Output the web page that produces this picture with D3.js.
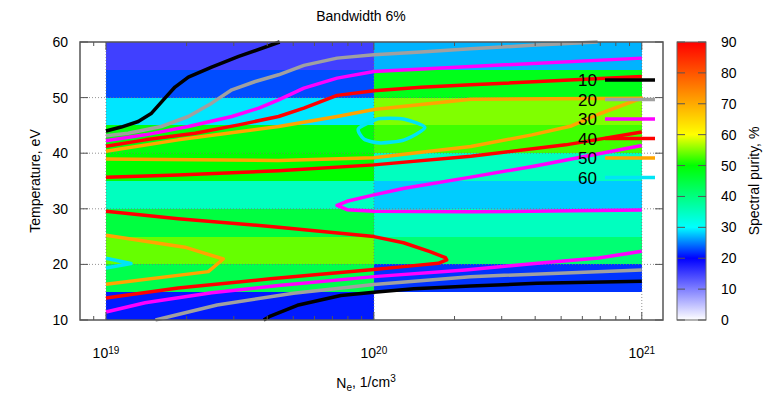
<!DOCTYPE html>
<html>
<head>
  <meta charset="utf-8">
  <title>Bandwidth 6%</title>
  <script src="https://d3js.org/d3.v7.min.js"></script>
  <style>
    html, body {
      margin: 0;
      padding: 0;
      background: #fff;
    }
    text {
      font-family: "Liberation Sans", Arial, sans-serif;
      fill: #000;
    }
    .contour {
      fill: none;
      stroke-width: 3.5;
      stroke-linejoin: round;
    }
    .grid {
      stroke: #777;
      stroke-width: 0.8;
      stroke-dasharray: 1,2;
    }
    .frame {
      fill: none;
      stroke: #555;
      stroke-width: 1.5;
    }
    .tick {
      stroke: #555;
      stroke-width: 1;
    }
  </style>
</head>
<body>
  <svg id="chart" width="768" height="394"></svg>

  <script>
    // heatmap: two density columns, temperature rows of 5 eV
    var densityEdges = [1e19, 1e20, 1e21];
    var tempEdges = [10, 15, 20, 25, 30, 35, 40, 45, 50, 55, 60];
    // purity per row, from 10-15 eV up to 55-60 eV
    var purityLow  = [21, 44, 54, 45, 35, 50, 49, 29, 23, 15];   // 1e19 .. 1e20
    var purityHigh = [0, 22, 41, 35, 28, 35, 52.5, 55, 48, 27];  // 1e20 .. 1e21

    // contour lines, points are [Ne, T]
    var c10a = [[1e19, 44.0], [1.14e19, 44.7], [1.32e19, 45.7], [1.48e19, 47.2], [1.66e19, 49.9], [1.81e19, 51.9],
                [2.03e19, 53.7], [2.48e19, 55.5], [3.13e19, 57.4], [4.45e19, 60.0]];
    var c10b = [[3.88e19, 10.0], [4.11e19, 10.7], [5.18e19, 12.65], [7.52e19, 14.4], [1e20, 15.0], [1.41e20, 15.6],
                [2.3e20, 16.1], [4.07e20, 16.6], [1e21, 16.95]];
    var c20a = [[1e19, 43.15], [1.21e19, 43.6], [1.61e19, 44.8], [2.03e19, 46.6], [2.48e19, 49.0], [2.95e19, 51.4],
                [3.61e19, 52.9], [4.41e19, 54.1], [5.48e19, 55.8], [7.29e19, 57.1], [1e20, 57.7], [1.5e20, 58.2],
                [2.3e20, 58.8], [3.89e20, 59.4], [6.84e20, 60.0]];
    var c20b = [[1.53e19, 10.0], [2.6e19, 12.7], [5.01e19, 14.8], [1e20, 16.4], [2.29e20, 17.8], [1e21, 19.0]];
    var c30a = [[1e19, 42.25], [1.4e19, 43.3], [2.03e19, 44.8], [2.95e19, 46.6], [3.72e19, 48.1], [4.41e19, 49.6],
                [5.48e19, 51.7], [7.29e19, 53.5], [1e20, 54.7], [2.3e20, 55.6], [1e21, 57.1]];
    var c30b = [[1e21, 41.4], [4e20, 37.7], [2.3e20, 35.7], [1.3e20, 33.7], [1e20, 32.5], [7.94e19, 31.35],
                [7.29e19, 30.6], [7.94e19, 29.85], [1e20, 29.55], [2.3e20, 29.45], [1e21, 29.8]];
    var c30c = [[1e19, 11.45], [1.4e19, 13.1], [2.48e19, 14.9], [4.41e19, 16.2], [1e20, 17.8], [2.2e20, 19.0],
                [3.89e20, 20.1], [6.9e20, 21.15], [1e21, 22.35]];
    var c40a = [[1e19, 41.25], [1.4e19, 42.4], [2.15e19, 43.6], [3.13e19, 45.1], [4.41e19, 46.6], [5.48e19, 48.1],
                [7.29e19, 50.4], [1e20, 51.25], [1.5e20, 51.85], [2.3e20, 52.3], [1e21, 53.8]];
    var c40b = [[1e19, 35.67], [1.86e19, 36.1], [4.41e19, 36.85], [1e20, 37.9], [2.3e20, 39.45], [5.2e20, 41.5],
                [1e21, 43.8]];
    var c40c = [[1e19, 29.55], [1.86e19, 28.2], [4.41e19, 26.7], [1e20, 25.0], [1.29e20, 23.9], [1.62e20, 22.3],
                [1.85e20, 21.2], [1.87e20, 20.8], [1.74e20, 20.2], [1.29e20, 19.6], [1e20, 19.1], [4.11e19, 17.4],
                [1.86e19, 15.75], [1e19, 13.95]];
    var c50a = [[1e19, 40.35], [1.86e19, 42.4], [4.41e19, 44.8], [7.29e19, 46.6], [1e20, 47.85], [2.3e20, 49.7],
                [1e21, 49.9], [6.92e20, 47.05], [5.46e20, 44.9], [3.89e20, 43.3], [2.3e20, 41.2], [1e20, 39.2],
                [4.41e19, 38.7], [1e19, 38.95]];
    var c50b = [[1e19, 25.25], [1.97e19, 23.1], [2.74e19, 20.97], [2.41e19, 18.7], [1e19, 16.45]];
    var c60a = [[1e19, 21.1], [1.24e19, 20.15], [1e19, 19.35]];
    var c60b = [[8.75e19, 44.4], [1.0e20, 45.9], [1.06e20, 46.25], [1.3e20, 46.1], [1.55e20, 44.6],
                [1.3e20, 42.4], [1.06e20, 41.85], [9.2e19, 42.5]];

    var levels = [10, 20, 30, 40, 50, 60];
    var levelColors = ["#000000", "#a0a0a0", "#ff00ff", "#ff0000", "#ffa500", "#00e5f5"];
    var levelLines = [[c10a, c10b], [c20a, c20b], [c30a, c30b, c30c], [c40a, c40b, c40c], [c50a, c50b], [c60a]];
    var closedLines = [c60b];

    var xTicksMajor = [1e19, 1e20, 1e21];
    var yTicks = [10, 20, 30, 40, 50, 60];
    var cbTicks = [0, 10, 20, 30, 40, 50, 60, 70, 80, 90];

    var paletteStops = [0, 20, 30, 50, 60, 90];
    var paletteColors = ["#ffffff", "#0000ff", "#00ffff", "#00ff00", "#ffff00", "#ff0000"];

    var svg = d3.select("#chart");

    var x = d3.scaleLog().domain([8e18, 1.2e21]).range([80, 663]);
    var y = d3.scaleLinear().domain([10, 60]).range([320, 42]);
    var color = d3.scaleLinear().domain(paletteStops).range(paletteColors);

    // heatmap cells
    var cells = [];
    [purityLow, purityHigh].forEach(function(col, ci) {
      col.forEach(function(v, ri) {
        cells.push({x0: densityEdges[ci], x1: densityEdges[ci + 1], t0: tempEdges[ri], t1: tempEdges[ri + 1], v: v});
      });
    });
    svg.append("g")
      .attr("shape-rendering", "crispEdges")
      .selectAll("rect")
      .data(cells)
      .join("rect")
      .attr("x", d => x(d.x0))
      .attr("y", d => y(d.t1))
      .attr("width", d => x(d.x1) - x(d.x0))
      .attr("height", d => y(d.t0) - y(d.t1))
      .attr("fill", d => color(d.v));

    // grid
    var grid = svg.append("g");
    grid.selectAll(".gy")
      .data(yTicks.slice(1, -1))
      .join("line")
      .attr("class", "grid")
      .attr("x1", 80).attr("x2", 663)
      .attr("y1", d => y(d)).attr("y2", d => y(d));
    grid.selectAll(".gx")
      .data(xTicksMajor)
      .join("line")
      .attr("class", "grid")
      .attr("x1", d => x(d)).attr("x2", d => x(d))
      .attr("y1", 42).attr("y2", 320);

    // contours
    var contourLine = d3.line().x(d => x(d[0])).y(d => y(d[1]));
    var loopLine = d3.line().x(d => x(d[0])).y(d => y(d[1])).curve(d3.curveCardinalClosed.tension(0.3));
    var g = svg.append("g");
    levelLines.forEach(function(lines, i) {
      lines.forEach(function(pts) {
        g.append("path")
          .attr("class", "contour")
          .attr("stroke", levelColors[i])
          .attr("d", contourLine(pts));
      });
    });
    closedLines.forEach(function(pts) {
      g.append("path")
        .attr("class", "contour")
        .attr("stroke", levelColors[5])
        .attr("d", loopLine(pts));
    });

    // legend
    levels.forEach(function(lv, i) {
      var ly = 80 + i * 19.5;
      svg.append("line")
        .attr("x1", 605).attr("x2", 655)
        .attr("y1", ly).attr("y2", ly)
        .attr("stroke", levelColors[i])
        .attr("stroke-width", 3.5);
      svg.append("text")
        .attr("x", 597).attr("y", ly)
        .attr("dy", "0.36em")
        .attr("text-anchor", "end")
        .style("font-size", "17px")
        .text(lv);
    });

    // frame and ticks
    svg.append("rect").attr("class", "frame")
      .attr("x", 80).attr("y", 42).attr("width", 583).attr("height", 278);

    var minor = [];
    [1e18, 1e19, 1e20].forEach(function(dec) {
      for (var k = 2; k <= 9; k++) {
        var v = k * dec;
        if (v > 8e18 && v < 1.2e21) minor.push(v);
      }
    });
    var ticks = svg.append("g");
    minor.forEach(function(v) {
      ticks.append("line").attr("class", "tick").attr("x1", x(v)).attr("x2", x(v)).attr("y1", 320).attr("y2", 316);
      ticks.append("line").attr("class", "tick").attr("x1", x(v)).attr("x2", x(v)).attr("y1", 42).attr("y2", 46);
    });
    xTicksMajor.forEach(function(v) {
      ticks.append("line").attr("class", "tick").attr("x1", x(v)).attr("x2", x(v)).attr("y1", 320).attr("y2", 312);
      ticks.append("line").attr("class", "tick").attr("x1", x(v)).attr("x2", x(v)).attr("y1", 42).attr("y2", 50);
    });
    yTicks.forEach(function(v) {
      ticks.append("line").attr("class", "tick").attr("x1", 80).attr("x2", 88).attr("y1", y(v)).attr("y2", y(v));
      ticks.append("line").attr("class", "tick").attr("x1", 663).attr("x2", 655).attr("y1", y(v)).attr("y2", y(v));
    });

    // axis labels
    svg.selectAll(".ylab")
      .data(yTicks)
      .join("text")
      .attr("x", 68).attr("y", d => y(d))
      .attr("dy", "0.36em")
      .attr("text-anchor", "end")
      .style("font-size", "14px")
      .text(d => d);

    xTicksMajor.forEach(function(v) {
      var t = svg.append("text")
        .attr("x", x(v)).attr("y", 358)
        .attr("text-anchor", "middle")
        .style("font-size", "14px");
      t.append("tspan").text("10");
      t.append("tspan").attr("dy", "-0.45em").style("font-size", "10px").text(Math.round(Math.log10(v)));
    });

    var xt = svg.append("text")
      .attr("x", 366).attr("y", 388)
      .attr("text-anchor", "middle")
      .style("font-size", "14px");
    xt.append("tspan").text("N");
    xt.append("tspan").attr("dy", "0.3em").style("font-size", "10px").text("e");
    xt.append("tspan").attr("dy", "-0.3em").text(", 1/cm");
    xt.append("tspan").attr("dy", "-0.45em").style("font-size", "10px").text("3");

    svg.append("text")
      .attr("transform", "translate(40,181) rotate(-90)")
      .attr("text-anchor", "middle")
      .style("font-size", "14px")
      .text("Temperature, eV");

    svg.append("text")
      .attr("x", 361).attr("y", 21)
      .attr("text-anchor", "middle")
      .style("font-size", "14px")
      .text("Bandwidth 6%");

    // colorbar
    var cb = d3.scaleLinear().domain([0, 90]).range([320, 42]);
    var grad = svg.append("defs").append("linearGradient")
      .attr("id", "pal")
      .attr("x1", 0).attr("x2", 0).attr("y1", 1).attr("y2", 0);
    paletteStops.forEach(function(s, i) {
      grad.append("stop").attr("offset", s / 90).attr("stop-color", paletteColors[i]);
    });
    svg.append("rect")
      .attr("x", 677).attr("y", 42).attr("width", 29).attr("height", 278)
      .attr("fill", "url(#pal)")
      .attr("stroke", "#666").attr("stroke-width", 1);
    cbTicks.forEach(function(v) {
      svg.append("line").attr("class", "tick").attr("x1", 677).attr("x2", 685).attr("y1", cb(v)).attr("y2", cb(v));
      svg.append("line").attr("class", "tick").attr("x1", 706).attr("x2", 698).attr("y1", cb(v)).attr("y2", cb(v));
      svg.append("text")
        .attr("x", 721).attr("y", cb(v))
        .attr("dy", "0.36em")
        .style("font-size", "14px")
        .text(v);
    });
    svg.append("text")
      .attr("transform", "translate(759,181) rotate(-90)")
      .attr("text-anchor", "middle")
      .style("font-size", "14px")
      .text("Spectral purity, %");
  </script>
</body>
</html>
